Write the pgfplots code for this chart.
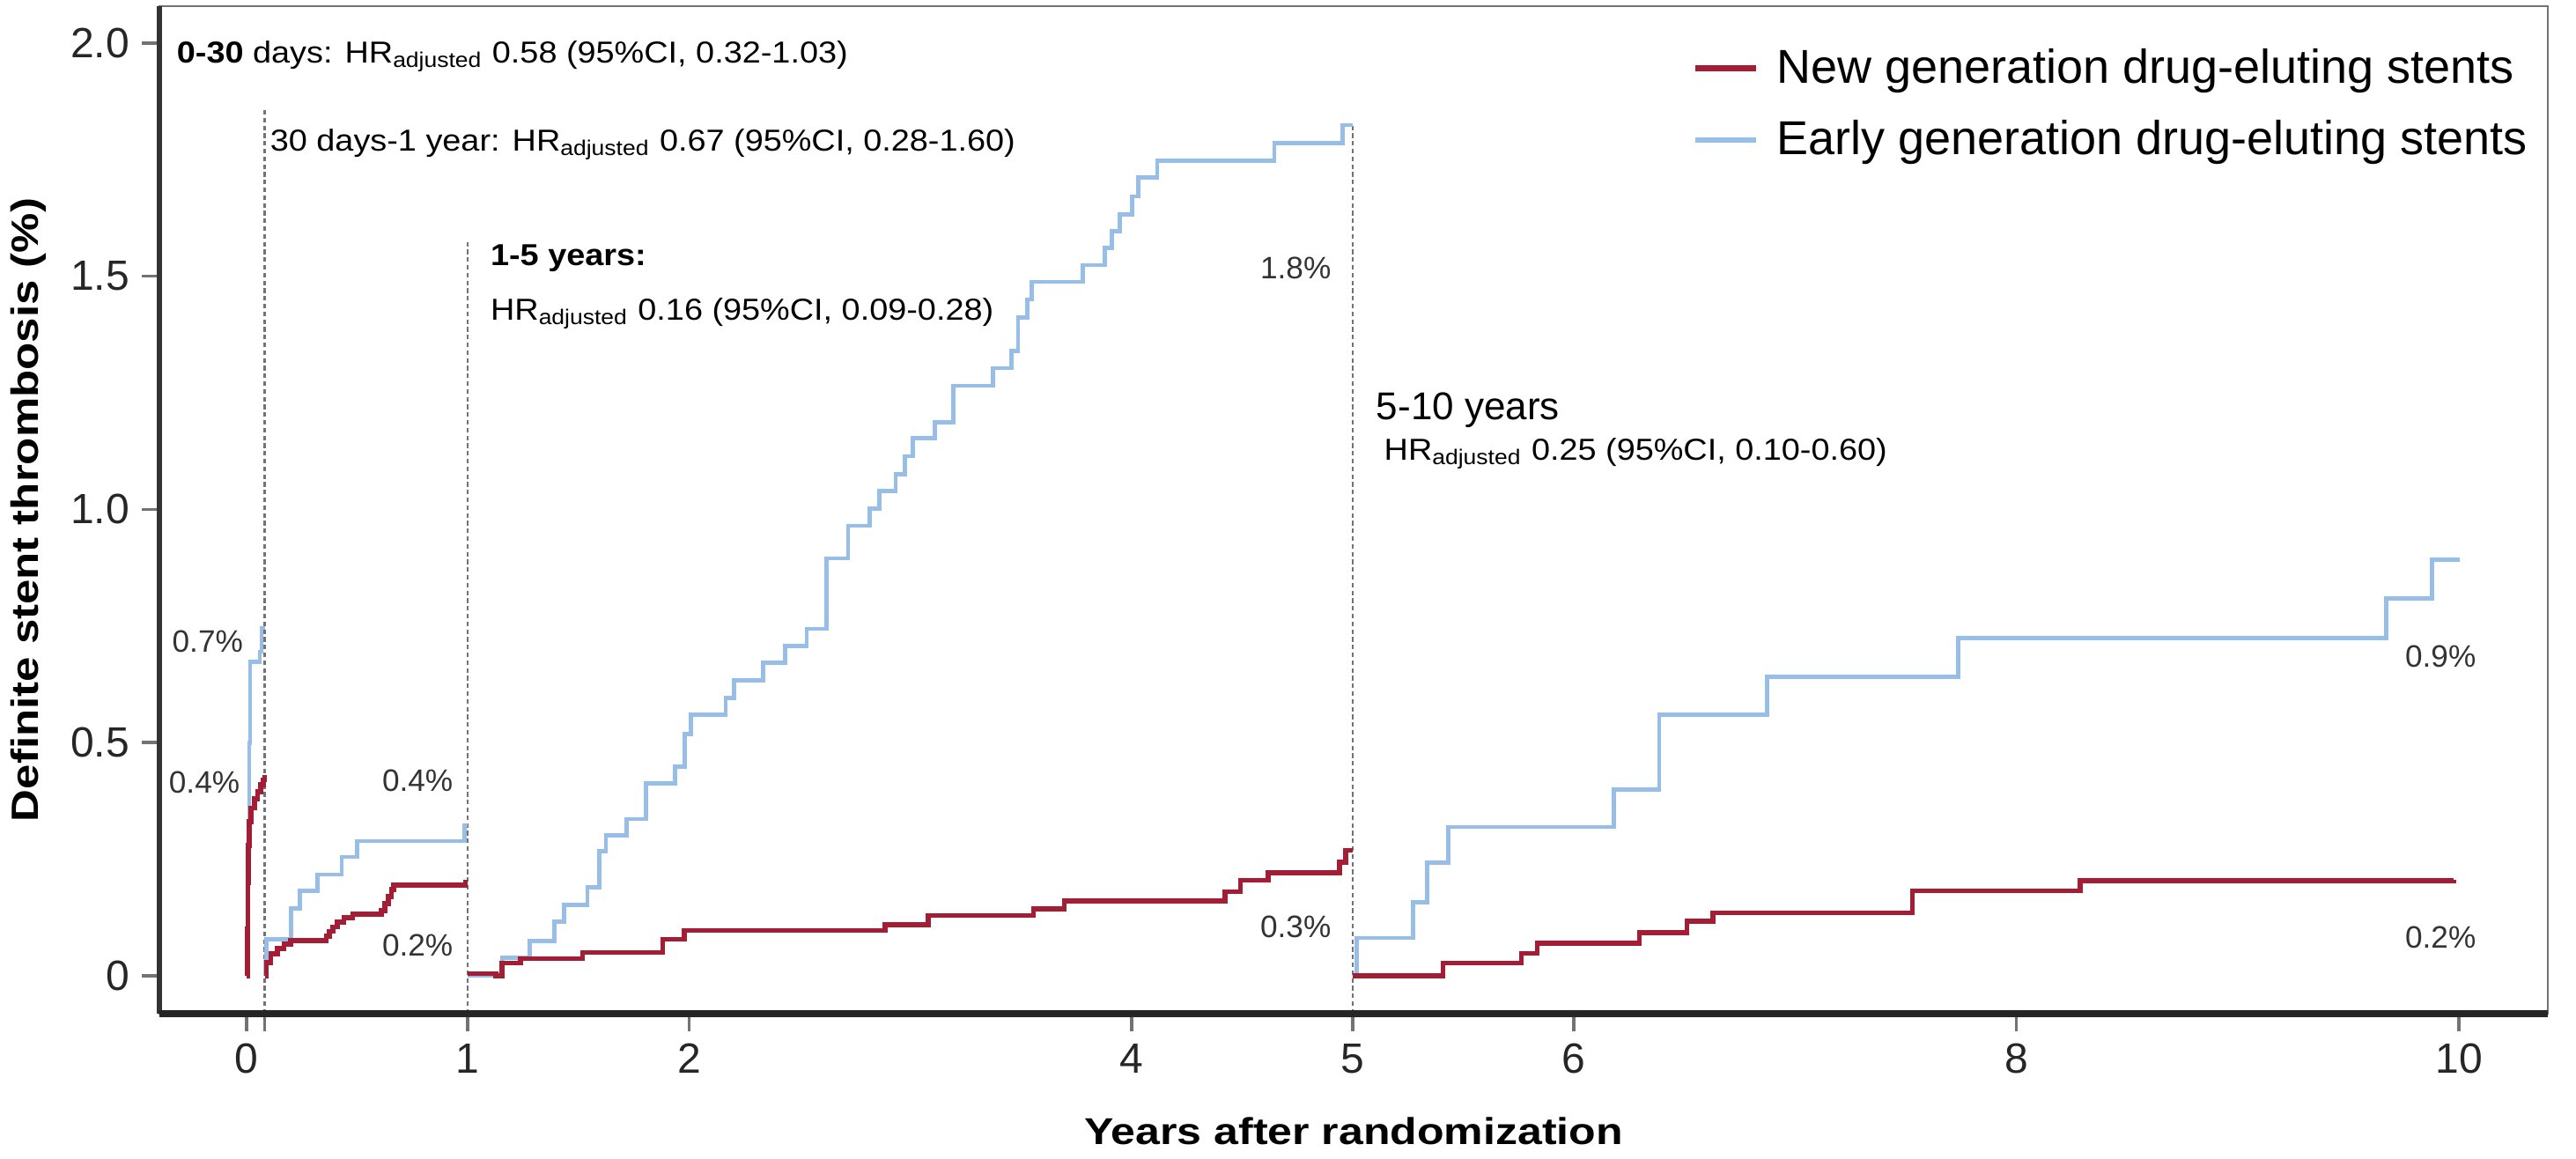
\documentclass[border=0pt]{standalone}
\usepackage{fontspec}
\setmainfont{Liberation Sans}
\newfontfamily\annfont[FakeStretch=1.10]{Liberation Sans}
\newfontfamily\labfont[FakeStretch=1.18]{Liberation Sans}
\usepackage{pgfplots}
\pgfplotsset{compat=1.18}
\definecolor{newred}{RGB}{163,30,52}
\definecolor{earlyblue}{RGB}{150,190,230}
\newcommand{\hr}{HR\textsubscript{adjusted}}

\begin{document}
\begin{tikzpicture}
\begin{axis}[%
  at={(0,0)}, anchor=south west,
  scale only axis,
  width=678pt, height=286pt,
  xmin=-0.394, xmax=10.402,
  ymin=-0.0812, ymax=2.079,
  clip=false,
  axis line style={black!55, line width=0.7pt},
  xtick pos=bottom, ytick pos=left,
  tick align=outside,
  major tick length=5pt,
  tick style={black!55, line width=0.9pt},
  xtick={0,1,2,4,5,6,8,10},
  xticklabels={0,1,2,4,5,6,8,10},
  extra x ticks={0.082},
  extra x tick labels={},
  ytick={0,0.5,1,1.5,2},
  yticklabels={0,0.5,1.0,1.5,2.0},
  ticklabel style={font=\fontsize{12}{14}\selectfont, text=black!85},
  xlabel={\labfont\bfseries Years after randomization},
  ylabel={\labfont\bfseries Definite stent thrombosis (\%)},
  xlabel style={at={(axis description cs:0.5,0)}, anchor=base, yshift=-37.25pt, font=\fontsize{10.6}{12}\selectfont},
  ylabel style={at={(axis description cs:-0.0549,0.5)}, anchor=center, font=\fontsize{10.8}{12}\selectfont},
  legend style={draw=none, fill=none, at={(axis description cs:0.6416,0.965)}, anchor=north west,
    inner sep=0pt, outer sep=0pt, row sep=5pt, column sep=3pt,
    font=\fontsize{13.5}{15}\selectfont,
    nodes={inner sep=2pt}},
  legend cell align=left,
  legend image code/.code={\draw[#1] (0pt,0pt) -- (17.25pt,0pt);},
]
\addlegendimage{newred, line width=1.9pt}
\addlegendentry{New generation drug-eluting stents}
\addlegendimage{earlyblue, line width=1.5pt}
\addlegendentry{Early generation drug-eluting stents}

% landmark separators
\draw[black!55, line width=0.6pt, dash pattern=on 1.3pt off 0.9pt] (axis cs:0.082,-0.0812) -- (axis cs:0.082,1.86);
\draw[black!55, line width=0.6pt, dash pattern=on 1.3pt off 0.9pt] (axis cs:1,-0.0812) -- (axis cs:1,1.573);
\draw[black!55, line width=0.6pt, dash pattern=on 1.3pt off 0.9pt] (axis cs:5,-0.0812) -- (axis cs:5,1.827);

% 0-30 days
\addplot[const plot, earlyblue, line width=1.2pt, forget plot] coordinates {
  (0,0) (0.004,0.1) (0.008,0.3) (0.012,0.5) (0.016,0.673) (0.06,0.695) (0.068,0.746) (0.082,0.746)
};
\addplot[const plot, newred, line width=1.4pt, forget plot] coordinates {
  (0,0) (0.003,0.1) (0.006,0.2) (0.009,0.28) (0.012,0.33) (0.02,0.36) (0.035,0.38)
  (0.05,0.395) (0.065,0.41) (0.075,0.42) (0.082,0.43)
};

% 30 days - 1 year
\addplot[const plot, earlyblue, line width=1.2pt, forget plot] coordinates {
  (0.082,0) (0.085,0.03) (0.09,0.078) (0.2,0.144) (0.24,0.182) (0.32,0.217)
  (0.43,0.255) (0.50,0.289) (0.985,0.323) (1.0,0.323)
};
\addplot[const plot, newred, line width=1.4pt, forget plot] coordinates {
  (0.082,0) (0.09,0.028) (0.11,0.047) (0.14,0.059) (0.17,0.068) (0.2,0.075)
  (0.36,0.085) (0.375,0.095) (0.39,0.105) (0.41,0.115) (0.44,0.125) (0.48,0.132)
  (0.61,0.14) (0.625,0.155) (0.64,0.17) (0.655,0.185) (0.665,0.194) (0.99,0.2) (1.0,0.2)
};

% 1-5 years
\addplot[const plot, earlyblue, line width=1.2pt, forget plot] coordinates {
  (1.0,0) (1.155,0.039) (1.281,0.075) (1.392,0.116) (1.434,0.152) (1.541,0.190)
  (1.596,0.267) (1.624,0.301) (1.719,0.336) (1.806,0.412) (1.937,0.448) (1.979,0.518)
  (2.007,0.560) (2.166,0.595) (2.202,0.633) (2.334,0.671) (2.434,0.707) (2.532,0.744)
  (2.621,0.895) (2.719,0.965) (2.817,1.002) (2.859,1.040) (2.934,1.076) (2.976,1.114)
  (3.012,1.153) (3.110,1.187) (3.194,1.265) (3.375,1.303) (3.459,1.339) (3.487,1.412)
  (3.529,1.450) (3.549,1.488) (3.780,1.524) (3.878,1.561) (3.912,1.597) (3.948,1.633)
  (4.004,1.671) (4.032,1.712) (4.116,1.748) (4.646,1.786) (4.953,1.824) (5.0,1.824)
};
\addplot[const plot, newred, line width=1.4pt, forget plot] coordinates {
  (1.0,0.005) (1.127,0) (1.155,0.027) (1.239,0.037) (1.518,0.050) (1.881,0.078)
  (1.979,0.097) (2.887,0.110) (3.082,0.129) (3.557,0.144) (3.696,0.161) (4.423,0.180)
  (4.493,0.205) (4.618,0.221) (4.940,0.244) (4.968,0.269) (5.0,0.269)
};

% 5-10 years
\addplot[const plot, earlyblue, line width=1.2pt, forget plot] coordinates {
  (5.0,0) (5.017,0.081) (5.273,0.158) (5.337,0.242) (5.433,0.319) (6.179,0.400)
  (6.385,0.560) (6.872,0.641) (7.736,0.724) (9.673,0.809) (9.879,0.892) (10.003,0.892)
};
\addplot[const plot, newred, line width=1.4pt, forget plot] coordinates {
  (5.0,0) (5.408,0.027) (5.763,0.048) (5.834,0.070) (6.296,0.092) (6.510,0.117)
  (6.627,0.135) (7.530,0.182) (8.287,0.204) (9.975,0.205)
};

% thick left and bottom spines
\draw[black!80, line width=1.5pt] (rel axis cs:0,0) -- (rel axis cs:0,1);
\draw[black!85, line width=1.8pt] (rel axis cs:0,0) -- (rel axis cs:1,0);

% period annotations
\node[anchor=base west, inner sep=0pt, font=\annfont\fontsize{8.6}{10}\selectfont] at (axis cs:-0.318,1.957)
  {\textbf{0-30} days: \hr{} 0.58 (95\%CI, 0.32-1.03)};
\node[anchor=base west, inner sep=0pt, font=\annfont\fontsize{8.6}{10}\selectfont] at (axis cs:0.104,1.768)
  {30 days-1 year: \hr{} 0.67 (95\%CI, 0.28-1.60)};
\node[anchor=base west, inner sep=0pt, font=\annfont\fontsize{8.6}{10}\selectfont] at (axis cs:1.10,1.522)
  {\textbf{1-5 years:}};
\node[anchor=base west, inner sep=0pt, font=\annfont\fontsize{8.6}{10}\selectfont] at (axis cs:1.10,1.405)
  {\hr{} 0.16 (95\%CI, 0.09-0.28)};
\node[anchor=base west, inner sep=0pt, font=\fontsize{11}{13}\selectfont] at (axis cs:5.104,1.192)
  {5-10 years};
\node[anchor=base west, inner sep=0pt, font=\annfont\fontsize{8.6}{10}\selectfont] at (axis cs:5.139,1.106)
  {\hr{} 0.25 (95\%CI, 0.10-0.60)};

% end-of-period rates
\begin{scope}[every node/.style={anchor=east, inner sep=0pt, text=black!80, font=\fontsize{8.8}{10}\selectfont}]
\node at (axis cs:-0.013,0.717) {0.7\%};
\node at (axis cs:-0.028,0.415) {0.4\%};
\node at (axis cs:0.936,0.418) {0.4\%};
\node at (axis cs:0.936,0.066) {0.2\%};
\node at (axis cs:4.905,1.518) {1.8\%};
\node at (axis cs:4.905,0.105) {0.3\%};
\node at (axis cs:10.08,0.684) {0.9\%};
\node at (axis cs:10.08,0.082) {0.2\%};
\end{scope}
\end{axis}
\pgfresetboundingbox
\path[use as bounding box] (-45.25pt,-41.25pt) rectangle (686pt,287.75pt);
\end{tikzpicture}
\end{document}
